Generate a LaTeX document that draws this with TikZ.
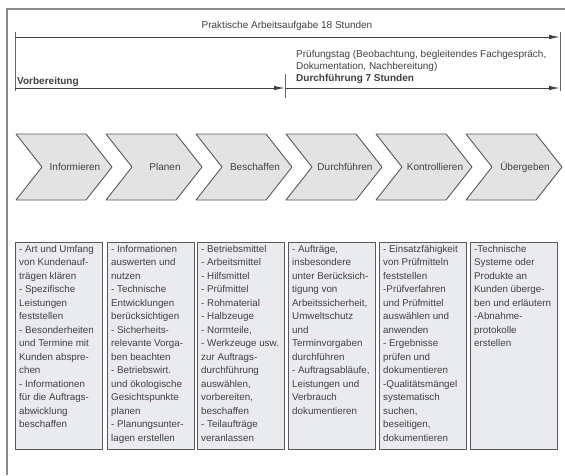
\documentclass[tikz,border=0pt]{standalone}
\usepackage{fontspec}
\setmainfont{Liberation Sans}
\usetikzlibrary{arrows.meta}

\definecolor{rahmen}{gray}{0.35}
\definecolor{schrift}{gray}{0.25}
\definecolor{feld}{RGB}{233,235,239}

\tikzset{
  phase/.style={draw=rahmen,fill=black!11,line width=0.9pt,line join=round},
  phasetext/.style={text=schrift,font=\fontsize{10}{12}\selectfont},
  kasten/.style={draw=rahmen,fill=feld,line width=1.1pt,minimum width=87pt,minimum height=207pt,anchor=north west,inner sep=0pt},
  kastentext/.style={text=schrift,font=\fontsize{9.8}{13.5}\selectfont,align=left,anchor=north west,inner sep=0pt},
  zeit/.style={-{Latex[length=11pt,width=4.5pt]},line width=1pt,draw=black!75},
  strich/.style={line width=1pt,draw=black!60},
  kopf/.style={text=schrift,font=\fontsize{10}{12}\selectfont,inner sep=0pt}
}

\newcommand{\Phase}[3]{%
  \draw[phase] (#1,134) -- ++(70,0) -- ++(26,33) -- ++(-26,33) -- ++(-70,0) -- ++(26,-33) -- cycle;
  \node[phasetext] (#2) at (#1+59,167) {#3};}
\newcommand{\Kasten}[3]{%
  \node[kasten] (#1) at (#2,242) {};
  \node[kastentext] (#1t) at ([shift={(4pt,-3pt)}]#1.north west) {#3};}

\begin{document}
\begin{tikzpicture}[x=1pt,y=-1pt]
    \useasboundingbox (0,0) rectangle (565,475);
    \draw[line width=1.2pt,draw=black!45] (7,475) -- (7,9) -- (565,9);

    \coordinate (anfang) at (15,37);
    \coordinate (ende) at (560,37);
    \coordinate (anfangU) at (15,88);
    \coordinate (pruefung) at (285,88);
    \coordinate (endeU) at (560,88);
    \draw[strich] ([yshift=5pt]anfang) -- ([yshift=-3pt]anfangU);
    \draw[strich] ([yshift=5pt]ende) -- ([yshift=-3pt]endeU);
    \draw[strich] ([yshift=14pt]pruefung) -- ([yshift=-10pt]pruefung);
    \draw[zeit] (anfang) -- (ende);
    \draw[zeit] (anfangU) -- (pruefung);
    \draw[zeit] (pruefung) -- (endeU);

    \node[kopf,anchor=base] (gesamt) at (287,28) {Praktische Arbeitsaufgabe 18 Stunden};
    \node[kopf,anchor=base west] (vorbereitung) at (17,84) {\textbf{Vorbereitung}};
    \node[kopf,anchor=north west,align=left] (pruefungstag) at (296,50)
      {Prüfungstag (Beobachtung, begleitendes Fachgespräch,\\Dokumentation, Nachbereitung)\\\textbf{Durchführung 7 Stunden}};

    \Phase{16}{informieren}{Informieren}
    \Phase{106}{planen}{Planen}
    \Phase{196}{beschaffen}{Beschaffen}
    \Phase{286}{durchfuehren}{Durchführen}
    \Phase{376}{kontrollieren}{Kontrollieren}
    \Phase{466}{uebergeben}{Übergeben}

    \Kasten{k1}{15}{- Art und Umfang\\von Kundenauf-\\trägen klären\\- Spezifische\\Leistungen\\feststellen\\- Besonderheiten\\und Termine mit\\Kunden abspre-\\chen\\- Informationen\\für die Auftrags-\\abwicklung\\beschaffen}
    \Kasten{k2}{107}{- Informationen\\auswerten und\\nutzen\\- Technische\\Entwicklungen\\berücksichtigen\\- Sicherheits-\\relevante Vorga-\\ben beachten\\- Betriebswirt.\\und ökologische\\Gesichtspunkte\\planen\\- Planungsunter-\\lagen erstellen}
    \Kasten{k3}{197}{- Betriebsmittel\\- Arbeitsmittel\\- Hilfsmittel\\- Prüfmittel\\- Rohmaterial\\- Halbzeuge\\- Normteile,\\- Werkzeuge usw.\\zur Auftrags-\\durchführung\\auswählen,\\vorbereiten,\\beschaffen\\- Teilaufträge\\veranlassen}
    \Kasten{k4}{288}{- Aufträge,\\insbesondere\\unter Berücksich-\\tigung von\\Arbeitssicherheit,\\Umweltschutz\\und\\Terminvorgaben\\durchführen\\- Auftragsabläufe,\\Leistungen und\\Verbrauch\\dokumentieren}
    \Kasten{k5}{379}{- Einsatzfähigkeit\\von Prüfmitteln\\feststellen\\-Prüfverfahren\\und Prüfmittel\\auswählen und\\anwenden\\- Ergebnisse\\prüfen und\\dokumentieren\\-Qualitätsmängel\\systematisch\\suchen,\\beseitigen,\\dokumentieren}
    \Kasten{k6}{470}{-Technische\\Systeme oder\\Produkte an\\Kunden überge-\\ben und erläutern\\-Abnahme-\\protokolle\\erstellen}
\end{tikzpicture}
\end{document}
